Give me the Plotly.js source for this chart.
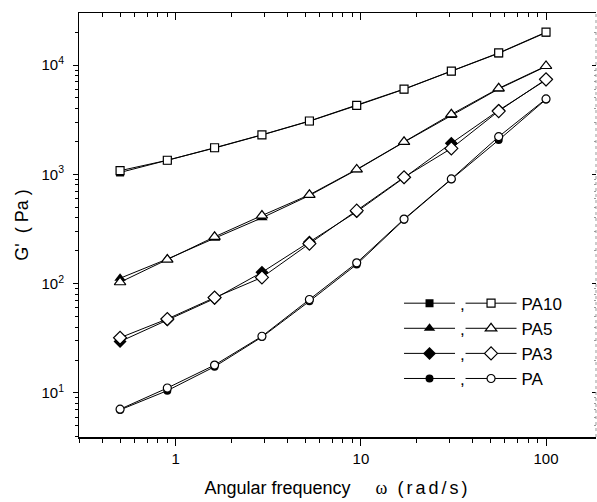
<!DOCTYPE html>
<html>
<head>
<meta charset="utf-8">
<script src="https://cdn.plot.ly/plotly-3.0.1.min.js"></script>
<style>html,body{margin:0;padding:0;background:#fff;}</style>
</head>
<body>
<div id="chart" style="width:597px;height:502px;"></div>
<script>
// Angular frequency (rad/s)
const omega = [0.5, 0.9, 1.62, 2.92, 5.27, 9.49, 17.1, 30.8, 55.5, 100];
// G' (Pa) — filled symbols
const pa10Filled = [1040, 1340, 1740, 2290, 3060, 4260, 6000, 8780, 12800, 19800];
const pa5Filled  = [112, 168, 260, 400, 640, 1100, 1970, 3450, 6050, 9700];
const pa3Filled  = [29.5, 46.5, 73, 127, 240, 455, 930, 1925, 3850, 7300];
const paFilled   = [7.0, 10.5, 17.4, 32.5, 69, 150, 385, 900, 2060, 4850];
// G' (Pa) — open symbols
const pa10Open = [1080, 1345, 1750, 2300, 3075, 4280, 6030, 8810, 12900, 20000];
const pa5Open  = [103, 166, 268, 420, 650, 1110, 1985, 3540, 6120, 9800];
const pa3Open  = [32, 47.5, 74.5, 114, 232, 465, 940, 1725, 3790, 7400];
const paOpen   = [7.1, 11.1, 18, 33, 71.6, 155, 390, 908, 2210, 4900];

// y tick labels
const yTickVals = [10, 100, 1000, 10000];
const yTickText = ['10<sup>1</sup>', '10<sup>2</sup>', '10<sup>3</sup>', '10<sup>4</sup>'];

const seriesNames = ['PA10', 'PA5', 'PA3', 'PA'];
const symbols = ['square', 'triangle-up', 'diamond', 'circle'];
const sizes = [8, 10, 10, 8];
const filledData = [pa10Filled, pa5Filled, pa3Filled, paFilled];
const openData = [pa10Open, pa5Open, pa3Open, paOpen];

const FONT = 'Liberation Sans, Arial, Helvetica, sans-serif';
const traces = [];
filledData.forEach((ys, i) => traces.push({
  x: omega, y: ys, type: 'scatter', mode: 'lines+markers', name: ',', legend: 'legend',
  line: {color: 'black', width: 1},
  marker: {symbol: symbols[i], size: sizes[i], color: 'black'}
}));
openData.forEach((ys, i) => traces.push({
  x: omega, y: ys, type: 'scatter', mode: 'lines+markers', name: seriesNames[i], legend: 'legend2',
  line: {color: 'black', width: 1},
  marker: {symbol: symbols[i], size: sizes[i], color: 'white', line: {color: 'black', width: 1.2}}
}));
// invisible helper traces so the mirrored frame axes and the label axis are drawn
traces.push({x: omega, y: pa10Open, xaxis: 'x2', yaxis: 'y2', type: 'scatter', mode: 'lines', opacity: 0, showlegend: false});
traces.push({x: omega, y: pa10Open, xaxis: 'x', yaxis: 'y3', type: 'scatter', mode: 'lines', opacity: 0, showlegend: false});

const xRange = [Math.log10(0.3), 2.27];
const yRange = [0.597, 4.476];
const NB = '\u00a0';

const layout = {
  width: 597, height: 502,
  margin: {l: 79, r: 1, t: 13, b: 65},
  font: {family: FONT, color: 'black', size: 15},
  xaxis: {
    type: 'log', range: xRange, dtick: 1, ticks: 'outside', ticklen: 7, tickcolor: 'black',
    showline: true, linecolor: 'black', linewidth: 1.5, showgrid: false,
    minor: {ticks: 'outside', ticklen: 4},
    tickfont: {size: 15},
    title: {
      text: 'Angular frequency' + NB + NB + NB + NB + ' <span style="font-family:Liberation Serif">ω</span>' + NB + ' <span style="letter-spacing:3px">(rad/s)</span>',
      font: {size: 18}, standoff: 16
    }
  },
  yaxis: {
    type: 'log', range: yRange, dtick: 1, ticks: 'outside', ticklen: 5, tickcolor: 'black',
    showline: true, linecolor: 'black', linewidth: 1.5, showgrid: false, showticklabels: false,
    minor: {ticks: 'outside', ticklen: 3}
  },
  yaxis3: {
    type: 'log', range: yRange, overlaying: 'y', side: 'left', anchor: 'x',
    tickmode: 'array', tickvals: yTickVals, ticktext: yTickText,
    ticks: 'outside', ticklen: 5, tickcolor: 'rgba(0,0,0,0)', ticklabelstandoff: 6,
    showline: false, showgrid: false, tickfont: {size: 15},
    title: {text: "G'" + NB + " ( Pa )", font: {size: 18}, standoff: 8}
  },
  xaxis2: {
    type: 'log', range: xRange, dtick: 1, overlaying: 'x', side: 'top', anchor: 'y2',
    ticks: 'inside', ticklen: 7, tickcolor: 'black',
    showline: true, linecolor: 'black', linewidth: 1.5, showgrid: false, showticklabels: false,
    minor: {ticks: 'inside', ticklen: 4}
  },
  yaxis2: {
    type: 'log', range: yRange, dtick: 1, overlaying: 'y', side: 'right', anchor: 'x2',
    ticks: 'inside', ticklen: 4, tickcolor: 'black',
    showline: false, showgrid: false, showticklabels: false,
    minor: {ticks: 'inside', ticklen: 2, tickcolor: '#999'}
  },
  shapes: [{
    type: 'line', xref: 'paper', yref: 'paper', x0: 1, x1: 1, y0: 0, y1: 1,
    line: {color: '#999', width: 1, dash: 'dot'}
  }],
  legend: {
    x: 0.619, y: 0.357, xanchor: 'left', yanchor: 'top',
    bgcolor: 'rgba(0,0,0,0)', itemwidth: 51, font: {size: 17, color: 'black'}
  },
  legend2: {
    x: 0.738, y: 0.357, xanchor: 'left', yanchor: 'top',
    bgcolor: 'rgba(0,0,0,0)', itemwidth: 51, font: {size: 17, color: 'black'}
  }
};

Plotly.newPlot('chart', traces, layout, {staticPlot: true});
</script>
</body>
</html>
